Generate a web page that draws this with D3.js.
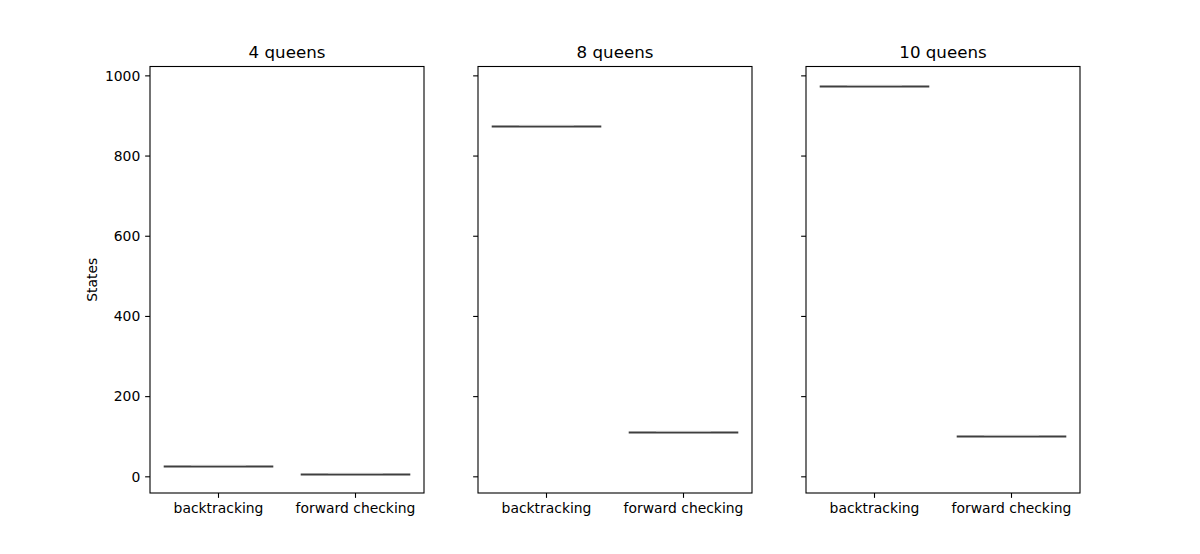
<!DOCTYPE html>
<html>
<head>
<meta charset="utf-8">
<script src="https://cdn.jsdelivr.net/npm/d3@7/dist/d3.min.js"></script>
<style>
  html, body { margin: 0; padding: 0; background: #fff; }
  svg { display: block; }
  text { font-family: "DejaVu Sans", sans-serif; fill: #000; }
</style>
</head>
<body>
<svg id="chart" width="1200" height="554"></svg>
<script>
// ---- data ----
const panels = ["4 queens", "8 queens", "10 queens"];
const categories = ["backtracking", "forward checking"];
const backtrackingStates = [27, 876, 975];
const forwardCheckingStates = [8, 113, 102];
const yTicks = [0, 200, 400, 600, 800, 1000];
const yLabel = "States";

// ---- layout ----
const panelLefts = [150, 478, 806];
const panelW = 274;
const plotTop = 66.5, plotBottom = 493;

const svg = d3.select("#chart");

const dataMin = d3.min([...backtrackingStates, ...forwardCheckingStates]);
const dataMax = d3.max([...backtrackingStates, ...forwardCheckingStates]);
const pad = (dataMax - dataMin) * 0.05;
const y = d3.scaleLinear().domain([dataMin - pad, dataMax + pad]).range([plotBottom, plotTop]);

const x = d3.scaleBand().domain(categories).range([0, panelW]).paddingInner(0.2).paddingOuter(0.1);

const tickLen = 4.86, tickPad = 4.86;
const tickFont = 13.9;

panels.forEach((name, i) => {
  const g = svg.append("g").attr("transform", `translate(${panelLefts[i]},0)`);
  const vals = [backtrackingStates[i], forwardCheckingStates[i]];

  // boxes (zero-variance → flat line)
  categories.forEach((c, j) => {
    const v = vals[j];
    const x0 = x(c), x1 = x(c) + x.bandwidth();
    const cx = x(c) + x.bandwidth() / 2;
    const yy = Math.round(y(v)) + 0.5;
    g.append("line").attr("x1", x0).attr("x2", x1).attr("y1", yy).attr("y2", yy)
      .attr("stroke", "#3f3f3f").attr("stroke-width", 2.2);
    // caps (half box width)
    g.append("line").attr("x1", cx - x.bandwidth() / 4).attr("x2", cx + x.bandwidth() / 4)
      .attr("y1", yy - 1.3).attr("y2", yy - 1.3)
      .attr("stroke", "#d8d8d8").attr("stroke-width", 0.6);
  });

  // frame
  g.append("rect").attr("x", 0).attr("y", plotTop).attr("width", panelW).attr("height", plotBottom - plotTop)
    .attr("fill", "none").attr("stroke", "#000").attr("stroke-width", 1.1);

  // y ticks
  yTicks.forEach(t => {
    const yy = y(t);
    g.append("line").attr("x1", -tickLen).attr("x2", 0).attr("y1", yy).attr("y2", yy)
      .attr("stroke", "#000").attr("stroke-width", 1.1);
    if (i === 0) {
      g.append("text").attr("x", -tickLen - tickPad).attr("y", yy).attr("dy", "0.35em")
        .attr("text-anchor", "end").attr("font-size", tickFont).text(t);
    }
  });

  // x ticks
  categories.forEach(c => {
    const cx = x(c) + x.bandwidth() / 2;
    g.append("line").attr("x1", cx).attr("x2", cx).attr("y1", plotBottom).attr("y2", plotBottom + tickLen)
      .attr("stroke", "#000").attr("stroke-width", 1.1);
    g.append("text").attr("x", cx).attr("y", plotBottom + tickLen + tickPad + 10.6)
      .attr("text-anchor", "middle").attr("font-size", tickFont).text(c);
  });

  // title
  g.append("text").attr("x", panelW / 2).attr("y", plotTop - 8.3)
    .attr("text-anchor", "middle").attr("font-size", 16.67).text(name);
});

// y label
svg.append("text")
  .attr("transform", `translate(${97},${(plotTop + plotBottom) / 2}) rotate(-90)`)
  .attr("text-anchor", "middle").attr("font-size", tickFont).text(yLabel);
</script>
</body>
</html>
